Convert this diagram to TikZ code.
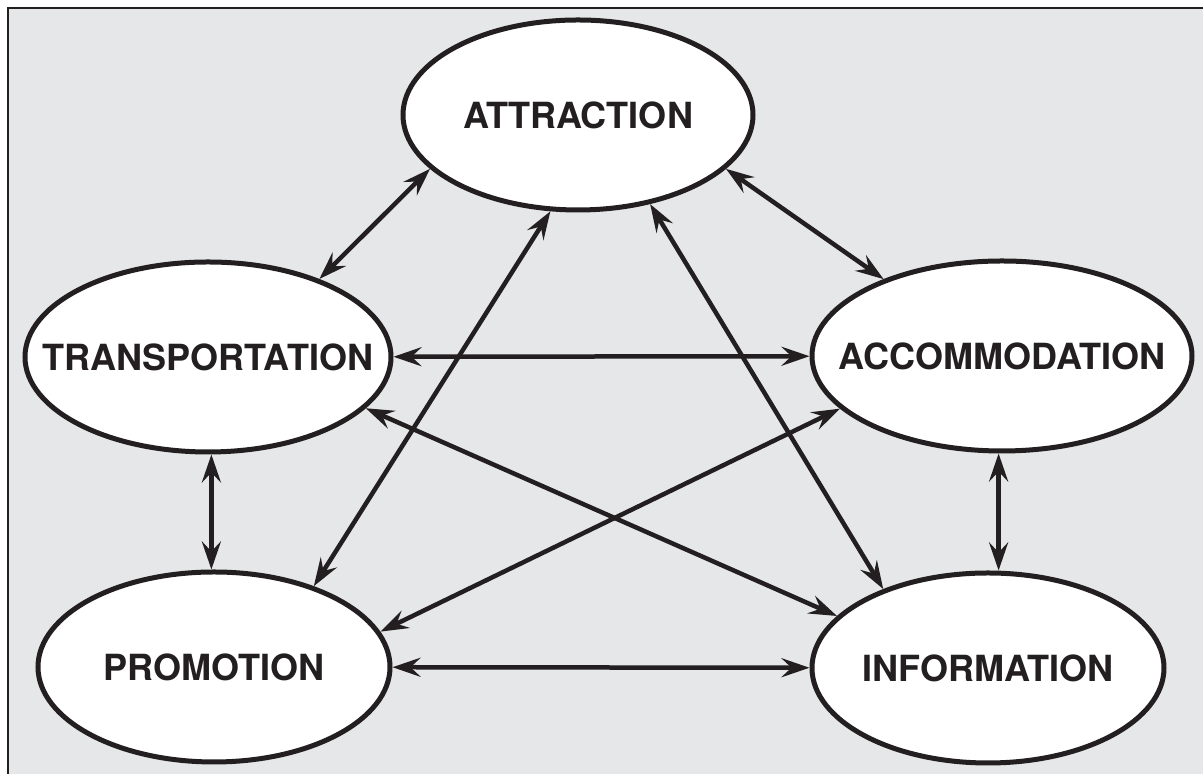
\documentclass[tikz,border=0pt]{standalone}
\usepackage{fontspec}
\setmainfont{TeX Gyre Heros}
\usetikzlibrary{shapes.geometric,arrows.meta}
\pgfdeclarelayer{bg}
\pgfsetlayers{bg,main}
\definecolor{ink}{HTML}{231F20}
\definecolor{panel}{HTML}{E6E7E8}
\tikzset{
    every node/.style={ellipse, draw=ink, text=ink, fill=white, line width=0.1cm, minimum height=3.8cm, inner xsep=-1cm, inner ysep=0mm, font=\bfseries\fontsize{20.5}{25}\selectfont}
}
\tikzset{every edge/.append style={draw=ink, line width=0.09cm}}

\begin{document}
\begin{tikzpicture}[>={Stealth[length=0.56cm, width=0.38cm, inset=0.2cm]}]
    \useasboundingbox (0cm, 0cm) rectangle (24.06cm, 15.48cm);

    \node (attr) at (11.56cm, 13.18cm) [minimum width=7.0cm] {ATTRACTION};
    \node (trans) at (4.16cm, 8.34cm) [minimum width=7.32cm] {TRANSPORTATION};
    \node (accom) at (20.04cm, 8.36cm) [minimum width=7.6cm] {ACCOMMODATION};
    \node (promo) at (4.28cm, 2.14cm) [minimum width=7.04cm] {PROMOTION};
    \node (info) at (19.76cm, 2.12cm) [minimum width=7.04cm] {INFORMATION};

    \begin{pgfonlayer}{bg}
        \fill[panel] (0.166cm, 0cm) rectangle (24.06cm, 15.31cm);
        \draw[ink, line width=0.04cm] (24.06cm, 15.31cm) -- (0.166cm, 15.31cm) -- (0.166cm, 0cm);

        \draw (trans.35) edge [<->] (attr.200);
        \draw (attr.340) edge [<->] (accom.147);
        \draw (trans) edge [<->] (accom);
        \draw (trans.272) edge [<->] (trans.272 |- promo.north);
        \draw (accom.268) edge [<->] (accom.268 |- info.north);
        \draw (promo) edge [<->] (info);

        \draw (promo.39) edge [<->] (attr.254);
        \draw (attr.309) edge [<->] (info.143);
        \draw (trans.342) edge [<->] (info.161);
        \draw (promo.12) edge [<->] (accom.198);
    \end{pgfonlayer}
\end{tikzpicture}
\end{document}
